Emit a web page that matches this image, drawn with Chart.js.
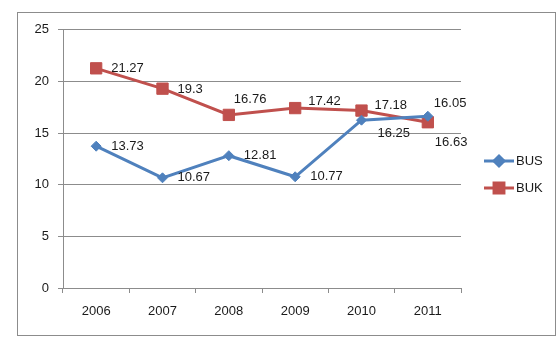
<!DOCTYPE html>
<html>
<head>
<meta charset="utf-8">
<script src="https://cdn.jsdelivr.net/npm/chart.js@4"></script>
<style>
  body { margin: 0; background: #fff; }
  #box { position: absolute; left: 17px; top: 12px; width: 537px; height: 322px; border: 1px solid #8c8c8c; }
</style>
</head>
<body>
<div id="box"><canvas id="myChart" width="537" height="322"></canvas></div>
<script>
  const years = ['2006', '2007', '2008', '2009', '2010', '2011'];
  const bus = [13.73, 10.67, 12.81, 10.77, 16.25, 16.63];
  const buk = [21.27, 19.3, 16.76, 17.42, 17.18, 16.05];
  const yTicks = [0, 5, 10, 15, 20, 25];

  const blue = '#4F81BD';
  const red = '#C0504D';
  const font = { family: 'Liberation Sans', size: 13 };

  // label offsets from each point, picked by eye
  const labelOffsets = [
    [[15, 0], [15, 0], [15, 0], [15, 0], [16, 13], [7, 26]],
    [[15, 0], [15, 1], [5, -15], [13, -7], [13, -5], [6, -19]]
  ];

  const valueLabels = {
    id: 'valueLabels',
    afterDatasetsDraw(chart) {
      const c = chart.ctx;
      c.save();
      c.font = font.size + 'px ' + font.family;
      c.fillStyle = '#1a1a1a';
      c.textAlign = 'left';
      c.textBaseline = 'middle';
      chart.data.datasets.forEach((ds, i) => {
        chart.getDatasetMeta(i).data.forEach((pt, j) => {
          const off = labelOffsets[i][j];
          c.fillText(String(ds.data[j]), pt.x + off[0], pt.y + off[1]);
        });
      });
      c.restore();
    }
  };

  const sideLegend = {
    id: 'sideLegend',
    afterDraw(chart) {
      const c = chart.ctx;
      const x0 = 466, rows = [148, 175];
      const sizes = [5, 7];
      c.save();
      c.font = font.size + 'px ' + font.family;
      c.textBaseline = 'middle';
      chart.data.datasets.forEach((ds, i) => {
        const y = rows[i];
        c.strokeStyle = ds.borderColor;
        c.lineWidth = 3;
        c.beginPath();
        c.moveTo(x0, y);
        c.lineTo(x0 + 30, y);
        c.stroke();
        Chart.helpers.drawPoint(c, {
          pointStyle: ds.pointStyle,
          radius: sizes[i],
          borderWidth: 1
        }, x0 + 15, y);
        c.fillStyle = ds.borderColor;
        c.fill();
        c.fillStyle = '#1a1a1a';
        c.fillText(ds.label, x0 + 32, y);
      });
      c.restore();
    }
  };

  new Chart(document.getElementById('myChart'), {
    type: 'line',
    data: {
      labels: years,
      datasets: [{
        label: 'BUS',
        data: bus,
        borderColor: blue,
        backgroundColor: blue,
        borderWidth: 3,
        pointStyle: 'rectRot',
        pointRadius: 5,
        pointBorderWidth: 1,
        tension: 0
      }, {
        label: 'BUK',
        data: buk,
        borderColor: red,
        backgroundColor: red,
        borderWidth: 3,
        pointStyle: 'rect',
        pointRadius: 8,
        pointBorderWidth: 1,
        tension: 0
      }]
    },
    options: {
      responsive: false,
      animation: false,
      layout: { padding: { top: 16, right: 94, left: 0, bottom: 0 } },
      plugins: {
        legend: { display: false },
        tooltip: { enabled: false }
      },
      scales: {
        x: {
          offset: true,
          afterFit: s => { s.height = 47; },
          grid: {
            offset: true,
            drawOnChartArea: false,
            tickLength: 5,
            color: '#8c8c8c'
          },
          border: { color: '#8c8c8c' },
          ticks: { font: font, color: '#1a1a1a', padding: 11 }
        },
        y: {
          min: 0,
          max: 25,
          afterFit: s => { s.width = 45; },
          afterBuildTicks: s => { s.ticks = yTicks.map(v => ({ value: v })); },
          grid: { color: '#8c8c8c', tickLength: 5 },
          border: { color: '#8c8c8c' },
          ticks: { font: font, color: '#1a1a1a', padding: 9 }
        }
      }
    },
    plugins: [valueLabels, sideLegend]
  });
</script>
</body>
</html>
